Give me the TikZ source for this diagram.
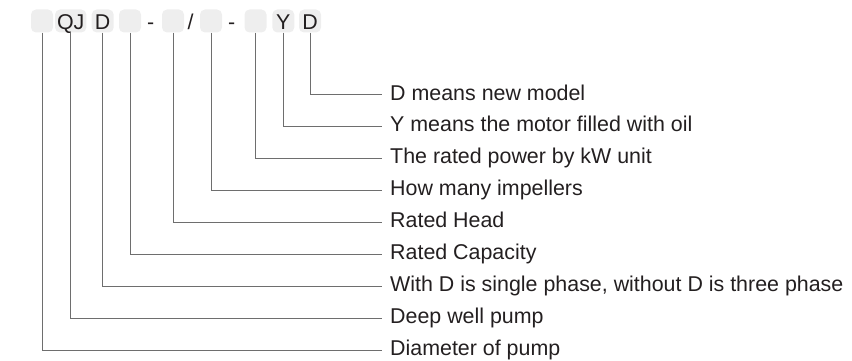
\documentclass[tikz,border=0pt]{standalone}
\usepackage{fontspec}
\setmainfont{Liberation Sans}
\usetikzlibrary{positioning}
\definecolor{ink}{HTML}{231F20}
\definecolor{boxfill}{HTML}{EEEEEE}
\definecolor{leadgray}{HTML}{6E6E6E}

\begin{document}
\begin{tikzpicture}[
  x=1pt, y=-1pt,
  font=\fontsize{21.4}{24}\selectfont,
  node distance=31.9pt,
  % Node styles
  codebox/.style={rectangle, rounded corners=5pt, fill=boxfill, text=ink, inner sep=2pt, minimum width=22pt, minimum height=23pt, text height=17pt, text depth=0pt},
  sepmark/.style={text=ink, inner sep=0pt, text height=17pt, text depth=0pt, minimum height=23pt},
  meaning/.style={text=ink, inner xsep=8pt, inner ysep=0pt, text height=13pt, text depth=3pt},
  lead/.style={draw=leadgray, line width=1pt}
]
  \useasboundingbox (0,0) rectangle (852,361);

  % Model code
  \node[codebox] (dia) at (42,21) {};
  \node[codebox] (qj) at (70.7,21) {QJ};
  \node[codebox] (ph) at (102.7,21) {D};
  \node[codebox] (cap) at (130,21) {};
  \node[sepmark] (dash1) at (150.7,21) {-};
  \node[codebox] (head) at (173,21) {};
  \node[sepmark] (slash) at (190.7,21) {/};
  \node[codebox] (imp) at (211,21) {};
  \node[sepmark] (dash2) at (231.7,21) {-};
  \node[codebox] (pow) at (255.5,21) {};
  \node[codebox] (oil) at (283.3,21) {Y};
  \node[codebox] (new) at (310,21) {D};

  % Meanings
  \node[meaning, anchor=west] (m1) at (382,95) {D means new model};
  \node[meaning, below=of m1.west, anchor=west] (m2) {Y means the motor filled with oil};
  \node[meaning, below=of m2.west, anchor=west] (m3) {The rated power by kW unit};
  \node[meaning, below=of m3.west, anchor=west] (m4) {How many impellers};
  \node[meaning, below=of m4.west, anchor=west] (m5) {Rated Head};
  \node[meaning, below=of m5.west, anchor=west] (m6) {Rated Capacity};
  \node[meaning, below=of m6.west, anchor=west] (m7) {With D is single phase, without D is three phase};
  \node[meaning, below=of m7.west, anchor=west] (m8) {Deep well pump};
  \node[meaning, below=of m8.west, anchor=west] (m9) {Diameter of pump};

  % Leader lines
  \draw[lead] (new.south) |- (m1.west);
  \draw[lead] (oil.south) |- (m2.west);
  \draw[lead] (pow.south) |- (m3.west);
  \draw[lead] (imp.south) |- (m4.west);
  \draw[lead] (head.south) |- (m5.west);
  \draw[lead] (cap.south) |- (m6.west);
  \draw[lead] (ph.south) |- (m7.west);
  \draw[lead] (qj.south) |- (m8.west);
  \draw[lead] (dia.south) |- (m9.west);

\end{tikzpicture}
\end{document}
